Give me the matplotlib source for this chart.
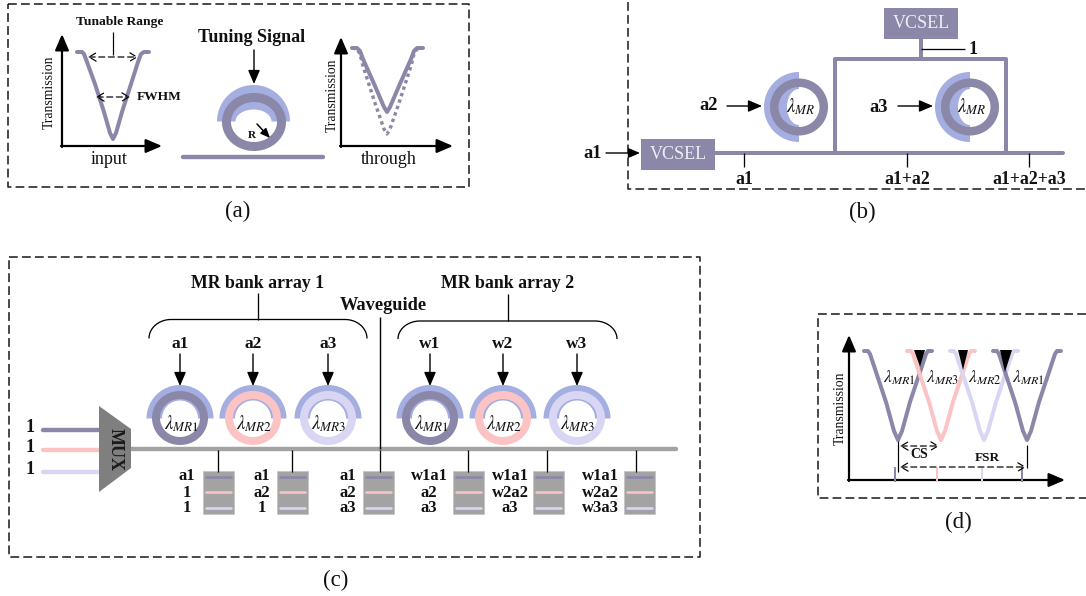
import numpy as np
import matplotlib.pyplot as plt
from matplotlib.patches import Polygon, Rectangle

plt.rcParams['font.family'] = ['Liberation Serif', 'DejaVu Serif']
plt.rcParams['mathtext.fontset'] = 'stix'

# colours
DARK = '#8a87a8'
PINK = '#fcc3c4'
LAV = '#d9d6f4'
BLUE = '#a5aee0'
GRAY = '#a3a3a3'
MUXC = '#7f7f7f'

# notch shapes, offset from centre and drop from top
notch_a_dx = [-36, -31, -29, -26, -18, -9, -3, 0, 3, 9, 18, 25, 28, 31, 36]
notch_a_dy = [0, 0, 2, 10, 32, 60, 81, 87, 81, 60, 32, 10, 2, 0, 0]
through_dx = [-35, -30, -27, -24, -12, -3, 0, 3, 12, 24, 27, 30, 36]
through_dy = [0, 0, 3, 11, 38, 59, 64, 59, 38, 11, 3, 0, 0]
dotted_dy = [0, 1, 6, 18, 55, 81, 86, 81, 55, 18, 6, 1, 0]
notch_d_dx = [-34, -30, -28, -25, -12, -4, 0, 4, 12, 25, 28, 30, 34]
notch_d_dy = [0, 0, 3, 12, 51, 80, 89, 80, 51, 12, 3, 0, 0]

# panel (c)
ring_x = [180, 253, 328, 430, 503, 577]
ring_color = [DARK, PINK, LAV, DARK, PINK, LAV]
ring_label = ['MR1', 'MR2', 'MR3', 'MR1', 'MR2', 'MR3']
ring_input = ['a1', 'a2', 'a3', 'w1', 'w2', 'w3']
drop_x = [218, 292, 378, 468, 548, 639]
drop_line_x = [218, 292, 380, 468, 547, 636]
drop_text_x = [187, 262, 348, 429, 510, 600]
drop_text = [['a1', '1', '1'], ['a1', 'a2', '1'], ['a1', 'a2', 'a3'],
             ['w1a1', 'a2', 'a3'], ['w1a1', 'w2a2', 'a3'], ['w1a1', 'w2a2', 'w3a3']]

# panel (d)
peak_x = [898, 941, 984, 1027]
peak_color = [DARK, PINK, LAV, DARK]
peak_label = ['MR1', 'MR3', 'MR2', 'MR1']
tick_x = [895, 937, 982, 1022]

fig = plt.figure(figsize=(10.86, 5.96), dpi=100)
ax = fig.add_axes([0, 0, 1, 1])
ax.set_xlim(0, 1086)
ax.set_ylim(596, 0)
ax.axis('off')


def px(w):
    return w * 0.72


def line(xs, ys, c='black', w=1.4, z=3, **kw):
    ax.plot(xs, ys, color=c, lw=px(w), zorder=z, solid_capstyle=kw.pop('cap', 'butt'), **kw)


def arrow(x0, y0, x1, y1, w=1.4, size=9, style='-|>,head_length=0.7,head_width=0.3', ls='-', z=6):
    ax.annotate('', xy=(x1, y1), xytext=(x0, y0), zorder=z,
                arrowprops=dict(arrowstyle=style, color='black', lw=px(w), ls=ls,
                                shrinkA=0, shrinkB=0, mutation_scale=size))


def dbl(x0, x1, y):
    # dashed double headed arrow with open heads
    arrow(x0, y, x1, y, w=1.2, size=10, style='<->,head_length=0.5,head_width=0.3', ls=(0, (5, 3)))


def txt(x, y, s, size=10, bold=True, **kw):
    ax.text(x, y, s, fontsize=size, fontweight='bold' if bold else 'normal', ha=kw.pop('ha', 'center'),
            va='center', zorder=8, color=kw.pop('color', '#111111'), **kw)


def dashed_path(xs, ys):
    ax.plot(xs, ys, color='#222222', lw=px(1.6), ls=(0, (5.5, 2.6)), dash_capstyle='butt', zorder=2)


def ring(cx, cy, rx, ry, t, c, z=4):
    a = np.linspace(0, 2 * np.pi, 90)
    pts = np.r_[np.c_[cx + rx * np.cos(a), cy + ry * np.sin(a)],
                np.c_[cx + (rx - t) * np.cos(a[::-1]), cy + (ry - t) * np.sin(a[::-1])]]
    ax.add_patch(Polygon(pts, closed=True, fc=c, ec='none', zorder=z))


def cap(cx, cy, r_out, r_in_a, r_in_b, side='top', z=3):
    # half band behind a ring, flat edge on the side away from the signal
    a = np.linspace(np.pi, 2 * np.pi, 60)
    ox, oy = r_out * np.cos(a), r_out * np.sin(a)
    ix, iy = r_in_a * np.cos(a[::-1]), r_in_b * np.sin(a[::-1])
    xs, ys = np.r_[ox, ix], np.r_[oy, iy]
    if side == 'left':
        xs, ys = ys, -xs
    ax.add_patch(Polygon(np.c_[cx + xs, cy + ys], closed=True, fc=BLUE, ec='none', zorder=z))


def curve(cx, top, dx, dy, c=DARK, w=4, z=3, **kw):
    ax.plot(cx + np.array(dx), top + np.array(dy), color=c, lw=px(w), zorder=z,
            solid_joinstyle='round', solid_capstyle='round', **kw)


def axes_arrows(x0, y0, ytop, xright):
    arrow(x0, y0 + 1, x0, ytop, w=2.2, size=14, z=5)
    arrow(x0 - 1, y0, xright, y0, w=2.2, size=14, z=5)


# ---------- (a)
dashed_path([8, 469, 469, 8, 8], [4, 4, 187, 187, 4])
axes_arrows(62, 146, 34, 162)
curve(113, 52, notch_a_dx, notch_a_dy)
txt(120, 22, 'Tunable Range', 9.7)
line([113, 113], [32, 55], w=1.2)
dbl(88, 138, 57)
dbl(96, 130, 97)
txt(159, 97, 'FWHM', 9.6)
txt(49, 92, 'Transmission', 9.8, bold=False, rotation=90)
txt(109, 160, 'input', 13, bold=False)
txt(252, 37, 'Tuning Signal', 13)
arrow(254, 50, 254, 84, size=12)
cap(253.5, 121.5, 36.5, 18, 12)
ring(254, 122, 32, 29, 9, DARK)
line([183, 323], [157, 157], c=DARK, w=4.4, cap='round')
txt(252, 135, 'R', 8)
arrow(257, 124, 270, 138, w=1.5, size=8)
axes_arrows(341, 146, 37, 453)
curve(387, 48, through_dx, through_dy)
ax.plot(387 + np.array(through_dx), 48 + np.array(dotted_dy), color=DARK, lw=px(3.4),
        ls=(0, (1.0, 1.0)), zorder=3)
txt(332, 95, 'Transmission', 9.8, bold=False, rotation=90)
txt(389, 160, 'through', 13, bold=False)
txt(238, 211, '(a)', 16.5, bold=False)

# ---------- (b)
dashed_path([628, 628, 1086], [2, 189, 189])
line([715, 1063], [153, 153], c=DARK, w=4, cap='round')
ax.plot([835, 835, 1006, 1006], [153, 59, 59, 153], color=DARK, lw=px(4), zorder=3, solid_joinstyle='round')
line([921, 921], [38, 59], c=DARK, w=4)
for x0, y0 in [(641, 139), (884, 8)]:
    ax.add_patch(Rectangle((x0, y0), 74, 31, fc=DARK, ec='none', zorder=4))
    txt(x0 + 37, y0 + 15.5, 'VCSEL', 13, bold=False, color='#eeeef5')
line([921, 965], [49, 49], w=1.3, z=5)
txt(973, 49, '1', 13)
for cx in [799, 970]:
    cap(cx, 107, 35, 18, 12, side='left')
    ring(cx, 107, 29, 28.5, 8.5, DARK)
    txt(cx + 2, 107, r'$\lambda_{MR}$', 13.5, bold=False)
txt(709, 105, 'a2', 13.3)
arrow(727, 106, 762, 106, size=12)
txt(879, 107, 'a3', 13.3)
arrow(898, 106, 933, 106, size=12)
txt(593, 153, 'a1', 13.3)
arrow(606, 153, 640, 153, size=10)
for x, s in zip([744, 907, 1029], ['a1', 'a1+a2', 'a1+a2+a3']):
    line([x, x], [153, 167], w=1.3)
    txt(x, 179, s, 12.8)
txt(862, 212, '(b)', 16.5, bold=False)

# ---------- (c)
dashed_path([9, 700, 700, 9, 9], [257, 257, 557, 557, 257])
txt(258, 283, 'MR bank array 1', 12.8)
txt(508, 284, 'MR bank array 2', 12.8)
txt(383, 306, 'Waveguide', 13.2)
line([258, 258], [293, 320], w=1.3)
line([508, 508], [294, 321], w=1.3)
line([380, 380], [317, 449], w=1.4, z=5)
t = np.linspace(0, np.pi / 2, 20)
for left, right, top, h in [(149, 367, 319.5, 19), (398, 617, 321, 18)]:
    xs = np.r_[left + 22 * (1 - np.cos(t)), right - 22 * (1 - np.cos(t[::-1]))]
    ys = np.r_[top + h * (1 - np.sin(t)), top + h * (1 - np.sin(t[::-1]))]
    line(xs, ys, w=1.3)
for x, c, lab, s in zip(ring_x, ring_color, ring_label, ring_input):
    cap(x, 418.5, 33.5, 18, 18)
    ring(x, 418, 28, 27, 8, c)
    txt(x + 1, 424, r'$\lambda_{%s}$' % lab, 13.5, bold=False)
    txt(x, 344, s, 12.5)
    arrow(x, 354, x, 386, size=12)
for y, c in zip([430, 450, 472], [DARK, PINK, LAV]):
    line([43, 99], [y, y], c=c, w=4.4, cap='round')
for y in [428, 448, 470]:
    txt(30, y, '1', 13)
ax.add_patch(Polygon([(99, 406), (131, 429), (131, 468), (99, 492)], closed=True, fc=MUXC, ec='none', zorder=4))
txt(115, 449, 'MUX', 13, rotation=-90, color='#1a1a1a')
line([131, 676], [449, 449], c=GRAY, w=4.4, z=3, cap='round')
for x, lx, tx, rows in zip(drop_x, drop_line_x, drop_text_x, drop_text):
    line([lx, lx], [450, 472], w=1.3, z=5)
    ax.add_patch(Rectangle((x - 15, 471), 30.5, 43, fc=GRAY, ec='#c4c4c4', lw=0.6, zorder=4))
    for y, c in zip([477, 492, 508], [DARK, PINK, LAV]):
        line([x - 12, x + 12.5], [y, y], c=c, w=2.6, z=5, cap='round')
    for y, s in zip([476, 493, 508], rows):
        txt(tx, y, s, 12)
txt(336, 580, '(c)', 16.5, bold=False)

# ---------- (d)
dashed_path([1086, 818, 818, 1086], [314, 314, 498, 498])
axes_arrows(849, 480, 335, 1065)
for x, c in zip(peak_x, peak_color):
    curve(x, 351, notch_d_dx, notch_d_dy, c=c)
for x0, x1, xa, ya in [(914, 925, 920, 367), (958, 968, 963, 370), (1000, 1012, 1005, 372)]:
    ax.add_patch(Polygon([(x0, 350), (x1, 350), (xa, ya)], closed=True, fc='black', ec='none', zorder=5))
for x, lab in zip(peak_x, peak_label):
    txt(x + 1, 378, r'$\lambda_{%s}$' % lab, 12.5, bold=False)
for x, c in zip(tick_x, peak_color):
    line([x, x], [467, 482], c=c, w=2, z=6)
line([898, 898], [441, 472], w=1.2)
line([1027, 1027], [445, 468], w=1.2)
dbl(900, 939, 446)
dbl(900, 1026, 467)
txt(919, 455, 'CS', 10)
txt(987, 458, 'FSR', 9.5)
txt(840, 408, 'Transmission', 9.8, bold=False, rotation=90)
txt(958, 522, '(d)', 16.5, bold=False)

fig.savefig('out.png', dpi=100)
